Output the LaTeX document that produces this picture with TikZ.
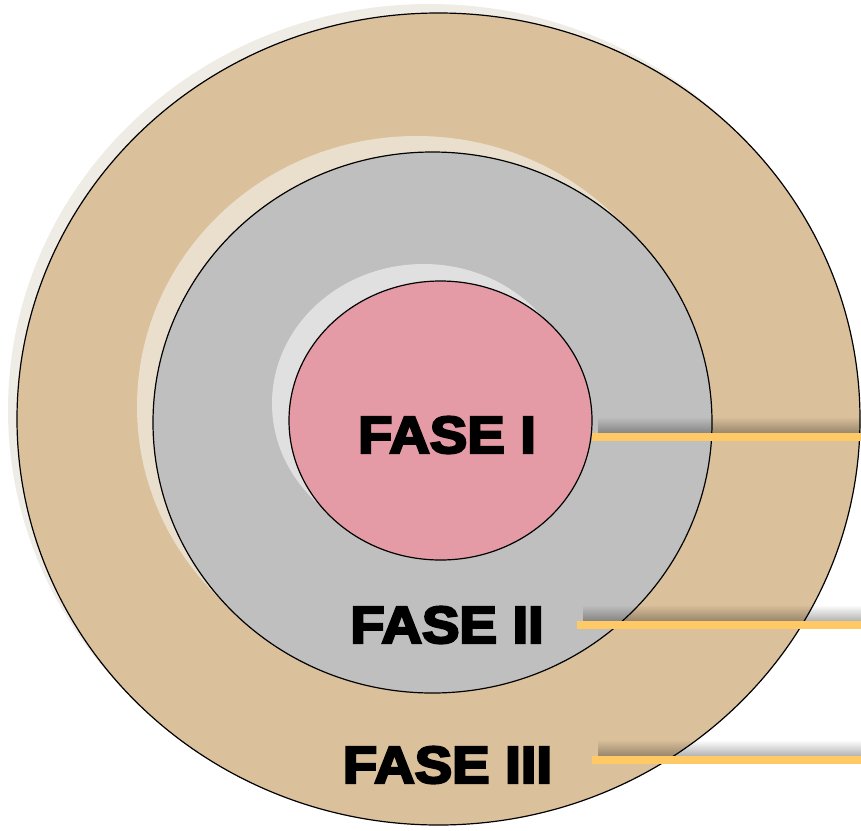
\documentclass[tikz,border=0pt]{standalone}
\usepackage{fontspec}
\newfontfamily\heavyfont{Liberation Sans}[BoldFeatures={FakeBold=4.5}]
\usetikzlibrary{shapes.geometric,fadings}
\definecolor{tanfill}{HTML}{DAC09B}
\definecolor{grayfill}{HTML}{BFBFBF}
\definecolor{pinkfill}{HTML}{E59BA5}
\definecolor{outershadow}{HTML}{EFECE6}
\definecolor{midshadow}{HTML}{EADFCD}
\definecolor{innershadow}{HTML}{E0E0E0}
\definecolor{linecol}{HTML}{FFC966}
\newcommand\widetext[1]{\scalebox{1.08}[1]{#1}}
\tikzset{
  ring/.style={ellipse, draw=black, line width=1.2pt, inner sep=0pt, outer sep=0pt},
  ringshadow/.style={ellipse, inner sep=0pt, outer sep=0pt},
  fasetext/.style={font=\heavyfont\bfseries\fontsize{52}{60}\selectfont, inner sep=0pt, text=black},
  conn/.style={draw=linecol, line width=8pt},
  connshadow/.style={fill=black, opacity=0.3, path fading=north}
}
\begin{document}
\begin{tikzpicture}[x=1pt,y=-1pt]
\useasboundingbox (0,0) rectangle (861,830);
% outer
\node[ringshadow, fill=outershadow, minimum width=843pt, minimum height=812pt] (outersh) at (429.5,410) {};
\node[ring, fill=tanfill, minimum width=843pt, minimum height=812pt] (outer) at (438.5,419) {};
% middle
\node[ringshadow, fill=midshadow, minimum width=559pt, minimum height=541pt] (midsh) at (416.5,406.5) {};
\node[ring, fill=grayfill, minimum width=559pt, minimum height=541pt] (mid) at (432.5,422.5) {};
% inner
\node[ringshadow, fill=innershadow, minimum width=303pt, minimum height=279pt] (innsh) at (423.5,403.5) {};
\node[ring, fill=pinkfill, minimum width=303pt, minimum height=279pt] (inn) at (440.5,420.5) {};
% line end coordinates
\coordinate (e1) at (861,437);
\coordinate (e2) at (861,624.5);
\coordinate (e3) at (861,760);
\coordinate (s2) at (577,624.5);
\coordinate (s3) at (592,760);
% connector shadows
\fill[connshadow] (598,417) rectangle (861,433);
\fill[connshadow] (583,605) rectangle (861,621);
\fill[connshadow] (598,740) rectangle (861,756);
% connectors
\draw[conn] (inn.east |- e1) -- (e1);
\draw[conn] (s2) -- (e2);
\draw[conn] (s3) -- (e3);
% texts
\node[fasetext] (t1) at (447,435) {\widetext{FASE I}};
\node[fasetext] (t2) at (447,625) {\widetext{FASE II}};
\node[fasetext] (t3) at (447.5,765) {\widetext{FASE III}};
\end{tikzpicture}
\end{document}
